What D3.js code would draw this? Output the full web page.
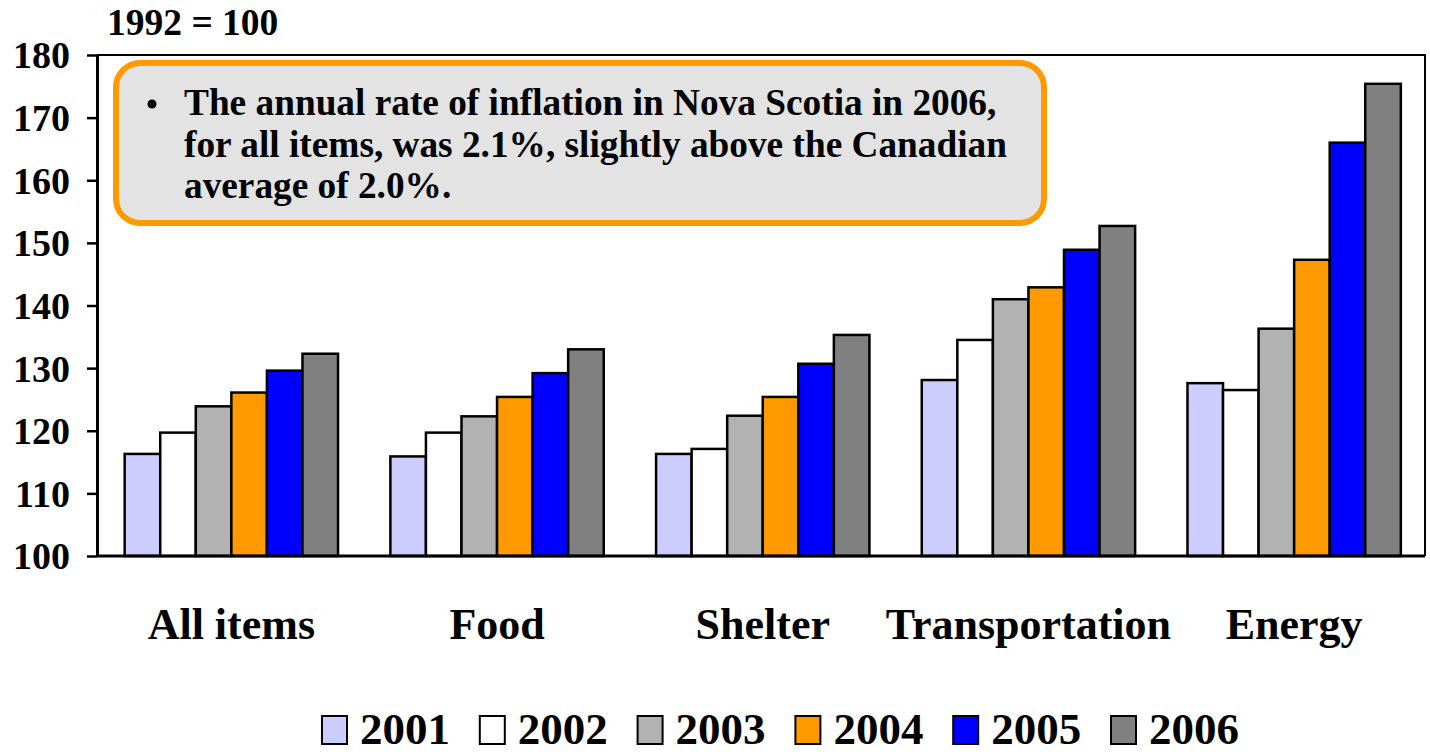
<!DOCTYPE html>
<html>
<head>
<meta charset="utf-8">
<script src="https://cdn.jsdelivr.net/npm/d3@7"></script>
<style>
  html, body { margin: 0; padding: 0; background: #fff; }
  svg { display: block; }
  text { font-family: "Liberation Serif", "Times New Roman", serif; font-weight: bold; fill: #000; }
</style>
</head>
<body>
<svg id="chart" width="1430" height="754"></svg>
<script>
// Consumer price index, Nova Scotia (1992 = 100)
const categories = ["All items", "Food", "Shelter", "Transportation", "Energy"];
const years = ["2001", "2002", "2003", "2004", "2005", "2006"];
const colors = ["#CCCCFF", "#FFFFFF", "#B2B2B2", "#FF9900", "#0000FF", "#808080"];

const v2001 = [116.3, 115.9, 116.3, 128.1, 127.6];
const v2002 = [119.7, 119.7, 117.1, 134.5, 126.5];
const v2003 = [123.9, 122.3, 122.4, 141.0, 136.3];
const v2004 = [126.1, 125.4, 125.4, 142.9, 147.3];
const v2005 = [129.6, 129.2, 130.7, 148.9, 166.0];
const v2006 = [132.3, 133.0, 135.3, 152.7, 175.4];
const seriesValues = [v2001, v2002, v2003, v2004, v2005, v2006];

const yTicks = [100, 110, 120, 130, 140, 150, 160, 170, 180];
const unitLabel = "1992 = 100";
const noteLines = [
  "The annual rate of inflation in Nova Scotia in 2006,",
  "for all items, was 2.1%, slightly above the Canadian",
  "average of 2.0%."
];

const svg = d3.select("#chart");

const plot = { left: 97, right: 1425, top: 55, bottom: 556 };

const y = d3.scaleLinear().domain([100, 180]).range([plot.bottom, plot.top]);
const x0 = d3.scaleBand().domain(categories).range([98.5, 1427])
  .paddingInner(0.197).paddingOuter(0.0985);
const x1 = d3.scaleBand().domain(years).range([0, x0.bandwidth()]).padding(0);

// plot frame (top and right edges)
svg.append("path")
  .attr("d", `M${plot.left},${plot.top}H${plot.right}V${plot.bottom}`)
  .attr("fill", "none").attr("stroke", "#000").attr("stroke-width", 2);

// bars
const groups = svg.append("g").selectAll("g")
  .data(categories)
  .join("g")
  .attr("transform", d => `translate(${x0(d)},0)`);

groups.selectAll("rect")
  .data((c, ci) => years.map((yr, si) => ({ yr, si, value: seriesValues[si][ci] })))
  .join("rect")
  .attr("x", d => x1(d.yr))
  .attr("y", d => y(d.value))
  .attr("width", x1.bandwidth())
  .attr("height", d => y(100) - y(d.value))
  .attr("fill", d => colors[d.si])
  .attr("stroke", "#000")
  .attr("stroke-width", 2.5);

// y axis
const yAxis = svg.append("g")
  .attr("transform", `translate(${plot.left},0)`)
  .call(d3.axisLeft(y).tickValues(yTicks).tickSize(10).tickPadding(17).tickSizeOuter(0));
yAxis.select(".domain").attr("stroke", "#000").attr("stroke-width", 3);
yAxis.selectAll(".tick line").attr("stroke", "#000").attr("stroke-width", 2.5);
yAxis.selectAll(".tick text")
  .attr("font-size", 38).attr("font-family", null)
  .attr("dy", "0.34em");

// x baseline
svg.append("line")
  .attr("x1", plot.left).attr("x2", plot.right)
  .attr("y1", plot.bottom).attr("y2", plot.bottom)
  .attr("stroke", "#000").attr("stroke-width", 3);

// category labels
const xAxis = svg.append("g")
  .attr("transform", `translate(0,${plot.bottom})`)
  .call(d3.axisBottom(x0).tickSize(0).tickPadding(0));
xAxis.select(".domain").remove();
xAxis.selectAll(".tick text")
  .attr("font-size", 44).attr("font-family", null)
  .attr("y", 83).attr("dy", 0);

// unit label
svg.append("text")
  .attr("x", 107).attr("y", 35)
  .attr("font-size", 37.5)
  .text(unitLabel);

// note box
svg.append("rect")
  .attr("x", 116).attr("y", 63)
  .attr("width", 928).attr("height", 160)
  .attr("rx", 24).attr("ry", 24)
  .attr("fill", "#E3E3E3")
  .attr("stroke", "#FF9900").attr("stroke-width", 6);

svg.append("circle")
  .attr("cx", 152).attr("cy", 104).attr("r", 4.5).attr("fill", "#000");

svg.append("g").selectAll("text")
  .data(noteLines)
  .join("text")
  .attr("x", 184)
  .attr("y", (d, i) => 115 + i * 41.5)
  .attr("font-size", 37.3)
  .text(d => d);

// legend
const legend = svg.append("g").selectAll("g")
  .data(years)
  .join("g")
  .attr("transform", (d, i) => `translate(${322 + i * 157.8},0)`);

legend.append("rect")
  .attr("x", 0).attr("y", 716)
  .attr("width", 25).attr("height", 28)
  .attr("fill", (d, i) => colors[i])
  .attr("stroke", "#000").attr("stroke-width", 2);

legend.append("text")
  .attr("x", 38).attr("y", 744)
  .attr("font-size", 45)
  .text(d => d);
</script>
</body>
</html>
